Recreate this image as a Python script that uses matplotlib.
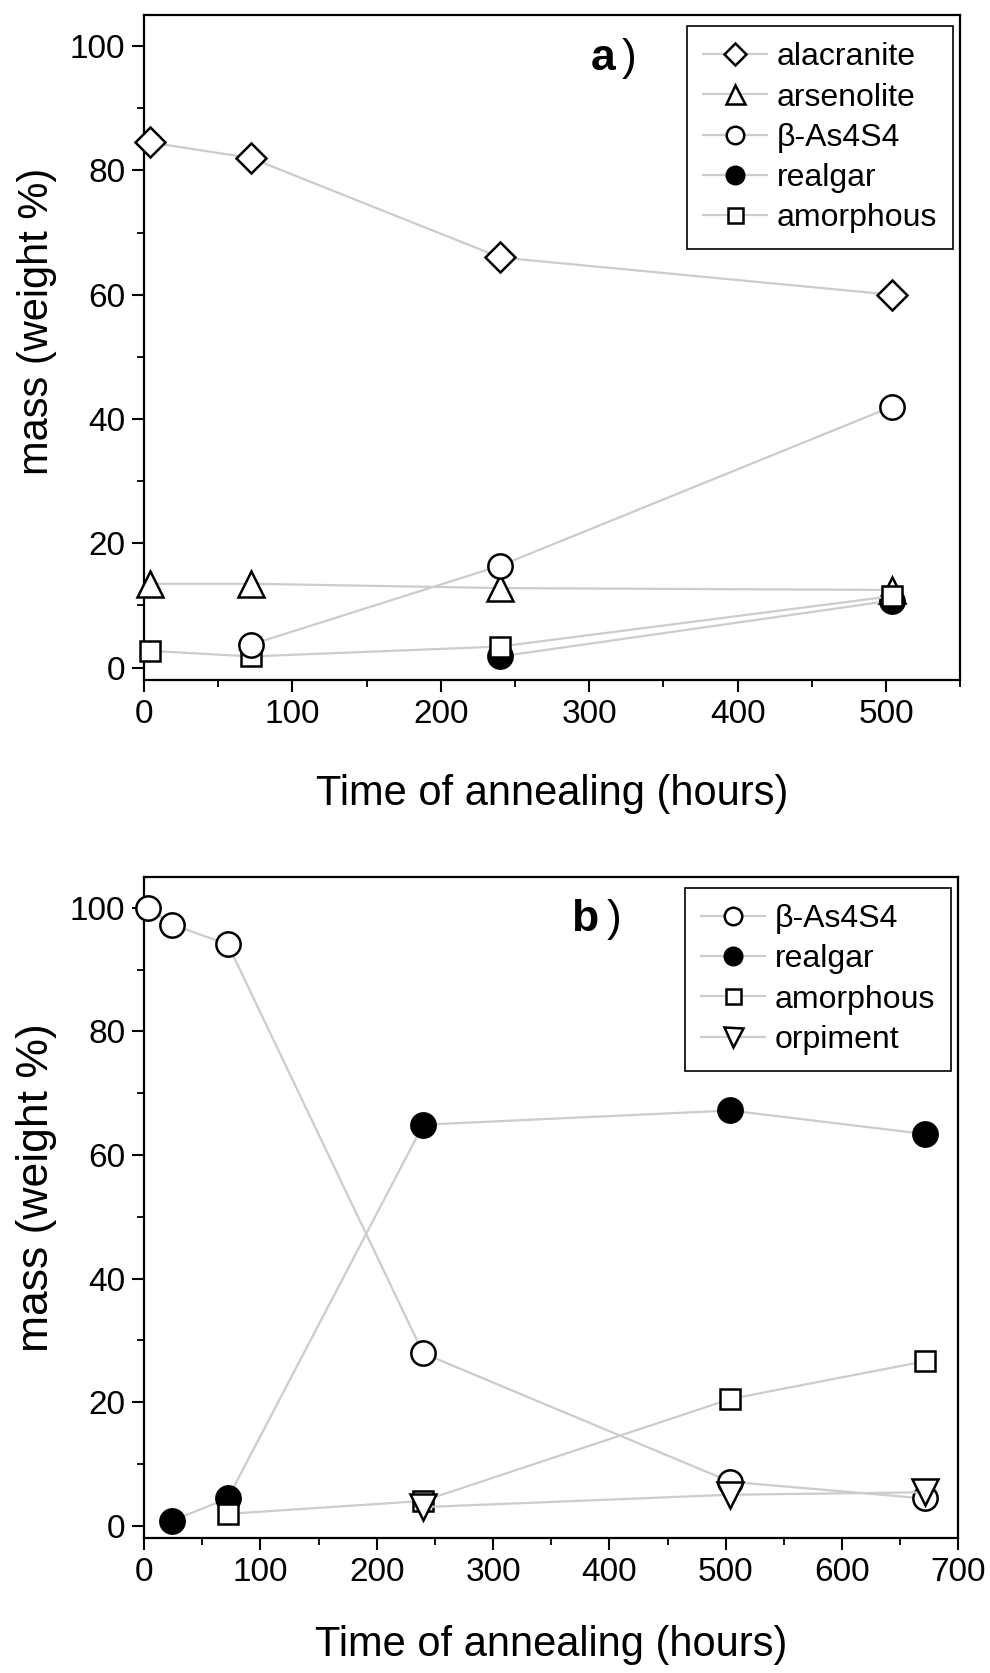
import matplotlib
matplotlib.use('Agg')
import matplotlib.pyplot as plt
from matplotlib.ticker import MultipleLocator

plt.rcParams['font.family'] = ['Liberation Sans', 'DejaVu Sans']

# panel a) data
a_alac_x = [4, 72, 240, 504]
a_alac_y = [84.5, 82, 66, 60]
a_arse_x = [4, 72, 240, 504]
a_arse_y = [13.5, 13.5, 12.8, 12.5]
a_beta_x = [72, 240, 504]
a_beta_y = [3.7, 16.4, 42]
a_real_x = [240, 504]
a_real_y = [1.8, 10.8]
a_amor_x = [4, 72, 240, 504]
a_amor_y = [2.7, 1.8, 3.4, 11.5]

# panel b) data
b_beta_x = [3, 24, 72, 240, 504, 671]
b_beta_y = [100, 97.3, 94.1, 27.9, 7.1, 4.4]
b_real_x = [24, 72, 240, 504, 671]
b_real_y = [0.8, 4.4, 64.9, 67.2, 63.4]
b_amor_x = [72, 240, 504, 671]
b_amor_y = [1.9, 4.0, 20.5, 26.6]
b_orpi_x = [240, 504, 671]
b_orpi_y = [3.0, 5.0, 5.4]

line_col = '#cccccc'
sizes = {'D': 15, '^': 19, 'v': 19, 'o': 17.5, 's': 15}


def series(ax, x, y, marker, label, filled=False):
    ax.plot(x, y, color=line_col, lw=1.6, marker=marker, markersize=sizes[marker],
            markeredgecolor='black', markeredgewidth=1.8,
            markerfacecolor='black' if filled else 'white',
            label=label, clip_on=False, zorder=3)


def style_axes(ax, xmax, ysize, ylab_y, xpad):
    ax.set_xlim(0, xmax)
    ax.set_ylim(-2, 105)
    ax.xaxis.set_major_locator(MultipleLocator(100))
    ax.xaxis.set_minor_locator(MultipleLocator(50))
    ax.yaxis.set_major_locator(MultipleLocator(20))
    ax.yaxis.set_minor_locator(MultipleLocator(10))
    ax.tick_params(which='major', direction='out', length=8.5, width=1.5,
                   labelsize=24, top=False, right=False, pad=5)
    ax.tick_params(which='minor', direction='out', length=5, width=1.3,
                   top=False, right=False)
    for s in ax.spines.values():
        s.set_linewidth(1.6)
    ax.set_xlabel('Time of annealing (hours)', fontsize=30, labelpad=xpad)
    ax.set_ylabel('mass (weight %)', fontsize=ysize)
    ax.yaxis.set_label_coords(-0.107, ylab_y)


def add_legend(ax, handles, labels):
    leg = ax.legend(handles, labels, loc='upper right', bbox_to_anchor=(0.991, 0.983),
                    borderaxespad=0, fontsize=23, markerscale=0.72, handlelength=2.0,
                    handletextpad=0.3, fancybox=False, edgecolor='black', framealpha=1,
                    borderpad=0.5, labelspacing=0.32)
    leg.get_frame().set_linewidth(1.2)


fig, (ax1, ax2) = plt.subplots(nrows=2, ncols=1, figsize=(9.9, 16.73), dpi=100)

series(ax1, a_alac_x, a_alac_y, 'D', 'alacranite')
series(ax1, a_arse_x, a_arse_y, '^', 'arsenolite')
series(ax1, a_real_x, a_real_y, 'o', 'realgar', filled=True)
series(ax1, a_amor_x, a_amor_y, 's', 'amorphous')
series(ax1, a_beta_x, a_beta_y, 'o', '\u03b2-As4S4')
style_axes(ax1, 550, 30, 0.54, 32)
h, l = ax1.get_legend_handles_labels()
order = [0, 1, 4, 2, 3]
add_legend(ax1, [h[i] for i in order], [l[i] for i in order])
ax1.text(0.562, 0.934, 'a', transform=ax1.transAxes, fontsize=32, fontweight='bold',
         ha='center', va='center')
ax1.text(0.594, 0.934, ')', transform=ax1.transAxes, fontsize=32,
         ha='center', va='center')

series(ax2, b_beta_x, b_beta_y, 'o', '\u03b2-As4S4')
series(ax2, b_real_x, b_real_y, 'o', 'realgar', filled=True)
series(ax2, b_amor_x, b_amor_y, 's', 'amorphous')
series(ax2, b_orpi_x, b_orpi_y, 'v', 'orpiment')
style_axes(ax2, 700, 32, 0.53, 27)
h, l = ax2.get_legend_handles_labels()
add_legend(ax2, h, l)
ax2.text(0.541, 0.935, 'b', transform=ax2.transAxes, fontsize=32, fontweight='bold',
         ha='center', va='center')
ax2.text(0.577, 0.935, ')', transform=ax2.transAxes, fontsize=32,
         ha='center', va='center')

ax1.set_position([0.1455, 0.5935, 0.8245, 0.3975])
ax2.set_position([0.1455, 0.0807, 0.8225, 0.3951])

plt.savefig('out.png', dpi=100)
